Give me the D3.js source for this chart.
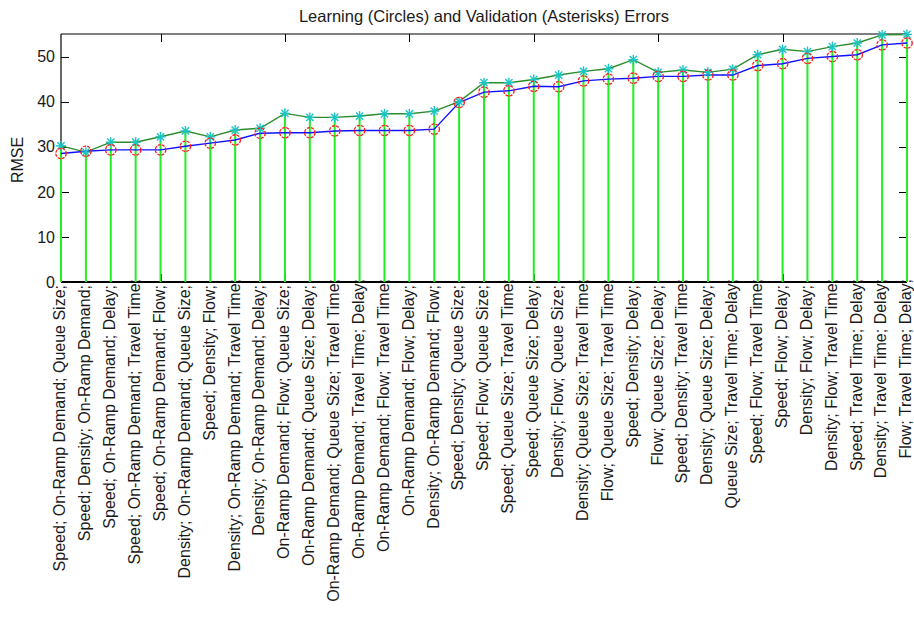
<!DOCTYPE html>
<html>
<head>
<meta charset="utf-8">
<script src="https://cdn.jsdelivr.net/npm/d3@7"></script>
<style>
  html, body { margin: 0; padding: 0; background: #fff; }
  svg { display: block; font-family: "Liberation Sans", Arial, sans-serif; }
</style>
</head>
<body>
<svg id="chart" width="914" height="617"></svg>
<script>
// Feature combinations (input sets), sorted by learning error
const combos = [
  "Speed; On-Ramp Demand; Queue Size;",
  "Speed; Density; On-Ramp Demand;",
  "Speed; On-Ramp Demand; Delay;",
  "Speed; On-Ramp Demand; Travel Time;",
  "Speed; On-Ramp Demand; Flow;",
  "Density; On-Ramp Demand; Queue Size;",
  "Speed; Density; Flow;",
  "Density; On-Ramp Demand; Travel Time;",
  "Density; On-Ramp Demand; Delay;",
  "On-Ramp Demand; Flow; Queue Size;",
  "On-Ramp Demand; Queue Size; Delay;",
  "On-Ramp Demand; Queue Size; Travel Time;",
  "On-Ramp Demand; Travel Time; Delay;",
  "On-Ramp Demand; Flow; Travel Time;",
  "On-Ramp Demand; Flow; Delay;",
  "Density; On-Ramp Demand; Flow;",
  "Speed; Density; Queue Size;",
  "Speed; Flow; Queue Size;",
  "Speed; Queue Size; Travel Time;",
  "Speed; Queue Size; Delay;",
  "Density; Flow; Queue Size;",
  "Density; Queue Size; Travel Time;",
  "Flow; Queue Size; Travel Time;",
  "Speed; Density; Delay;",
  "Flow; Queue Size; Delay;",
  "Speed; Density; Travel Time;",
  "Density; Queue Size; Delay;",
  "Queue Size; Travel Time; Delay;",
  "Speed; Flow; Travel Time;",
  "Speed; Flow; Delay;",
  "Density; Flow; Delay;",
  "Density; Flow; Travel Time;",
  "Speed; Travel Time; Delay;",
  "Density; Travel Time; Delay;",
  "Flow; Travel Time; Delay;"
];

// RMSE on the learning set (circles)
const learningRMSE = [
  28.5, 29.0, 29.3, 29.3, 29.3, 30.1, 30.8, 31.5, 33.0, 33.1,
  33.1, 33.5, 33.6, 33.6, 33.6, 33.9, 39.8, 42.1, 42.4, 43.4,
  43.3, 44.6, 45.0, 45.2, 45.6, 45.6, 45.9, 45.9, 48.0, 48.4,
  49.6, 50.0, 50.4, 52.6, 53.0
];

// RMSE on the validation set (asterisks)
const validationRMSE = [
  30.2, 28.8, 31.0, 31.0, 32.2, 33.5, 32.2, 33.7, 34.1, 37.4,
  36.5, 36.5, 36.8, 37.3, 37.3, 37.9, 40.0, 44.2, 44.2, 44.9,
  45.9, 46.7, 47.3, 49.3, 46.5, 47.0, 46.5, 47.2, 50.4, 51.6,
  51.1, 52.2, 53.0, 54.8, 54.9
];

const yTicks = [0, 10, 20, 30, 40, 50];
const xTicks = [5, 10, 15, 20, 25, 30];

const idx = d3.range(1, combos.length + 1);

const svg = d3.select("#chart");
const plotL = 61, plotR = 907, plotT = 34, plotB = 282;

const x = d3.scaleLinear().domain([1, combos.length]).range([plotL, plotR]);
const y = d3.scaleLinear().domain([0, 55]).range([plotB, plotT]);

// Axis tick marks pointing inward on all four sides
const tickLen = 8;
const ticks = svg.append("g").attr("stroke", "#000").attr("stroke-width", 1);
yTicks.forEach(t => {
  const ty = Math.round(y(t)) + 0.5;
  ticks.append("line").attr("x1", plotL).attr("x2", plotL + tickLen).attr("y1", ty).attr("y2", ty);
  ticks.append("line").attr("x1", plotR).attr("x2", plotR - tickLen).attr("y1", ty).attr("y2", ty);
});
xTicks.forEach(t => {
  const tx = Math.round(x(t)) + 0.5;
  ticks.append("line").attr("x1", tx).attr("x2", tx).attr("y1", plotT).attr("y2", plotT + tickLen);
  ticks.append("line").attr("x1", tx).attr("x2", tx).attr("y1", plotB).attr("y2", plotB - tickLen);
});

// Y tick labels
svg.append("g").selectAll("text").data(yTicks).join("text")
  .attr("x", plotL - 6).attr("y", d => y(d)).attr("dy", "0.36em")
  .attr("text-anchor", "end").attr("font-size", 16).attr("fill", "#1a1a1a")
  .text(d => d);

// Y axis title
svg.append("text")
  .attr("transform", `translate(23,${(plotT + plotB) / 2 + 2}) rotate(-90)`)
  .attr("text-anchor", "middle").attr("font-size", 16).attr("fill", "#1a1a1a")
  .text("RMSE");

// Chart title
svg.append("text")
  .attr("x", (plotL + plotR) / 2).attr("y", 22)
  .attr("text-anchor", "middle").attr("font-size", 16.5).attr("fill", "#1a1a1a")
  .text("Learning (Circles) and Validation (Asterisks) Errors");

// Rotated category labels under the axis
svg.append("g").selectAll("text").data(idx).join("text")
  .attr("transform", d => `translate(${x(d)},${combos[d - 1].includes("Travel") ? 279 : 285}) rotate(-90)`)
  .attr("dy", "0.27em")
  .attr("text-anchor", "end").attr("font-size", 16).attr("fill", "#1a1a1a")
  .text(d => combos[d - 1]);

// Frame lines
const frame = svg.append("g").attr("stroke", "#000").attr("stroke-width", 1.2).attr("fill", "none");
frame.append("line").attr("x1", plotL).attr("x2", plotL).attr("y1", plotT).attr("y2", plotB);
frame.append("line").attr("x1", plotL).attr("x2", plotR).attr("y1", plotT).attr("y2", plotT);
frame.append("line").attr("x1", plotR).attr("x2", plotR).attr("y1", plotT).attr("y2", plotB);
frame.append("line").attr("x1", plotL).attr("x2", plotR).attr("y1", plotB).attr("y2", plotB).attr("stroke-width", 2);

// Stems up to each validation value
svg.append("g").selectAll("line").data(idx).join("line")
  .attr("x1", d => x(d)).attr("x2", d => x(d))
  .attr("y1", y(0)).attr("y2", d => y(validationRMSE[d - 1]))
  .attr("stroke", "#22ee22").attr("stroke-width", 2);

// Validation line
svg.append("path")
  .datum(idx)
  .attr("fill", "none").attr("stroke", "#2a8c2a").attr("stroke-width", 1.4)
  .attr("d", d3.line().x(d => x(d)).y(d => y(validationRMSE[d - 1])));

// Learning line
svg.append("path")
  .datum(idx)
  .attr("fill", "none").attr("stroke", "#1010ff").attr("stroke-width", 1.4)
  .attr("d", d3.line().x(d => x(d)).y(d => y(learningRMSE[d - 1])));

// Asterisk markers for validation
const star = svg.append("g").attr("stroke", "#1cc4c4").attr("stroke-width", 1.4);
idx.forEach(d => {
  const cx = x(d), cy = y(validationRMSE[d - 1]), r = 5;
  star.append("line").attr("x1", cx - r).attr("x2", cx + r).attr("y1", cy).attr("y2", cy);
  star.append("line").attr("x1", cx).attr("x2", cx).attr("y1", cy - r).attr("y2", cy + r);
  const k = r * 0.72;
  star.append("line").attr("x1", cx - k).attr("x2", cx + k).attr("y1", cy - k).attr("y2", cy + k);
  star.append("line").attr("x1", cx - k).attr("x2", cx + k).attr("y1", cy + k).attr("y2", cy - k);
});

// Circle markers for learning
svg.append("g").selectAll("circle").data(idx).join("circle")
  .attr("cx", d => x(d)).attr("cy", d => y(learningRMSE[d - 1]))
  .attr("r", 5.2).attr("fill", "none")
  .attr("stroke", "#ff1a1a").attr("stroke-width", 1.3)
  .attr("stroke-dasharray", "3 1.2");
</script>
</body>
</html>
